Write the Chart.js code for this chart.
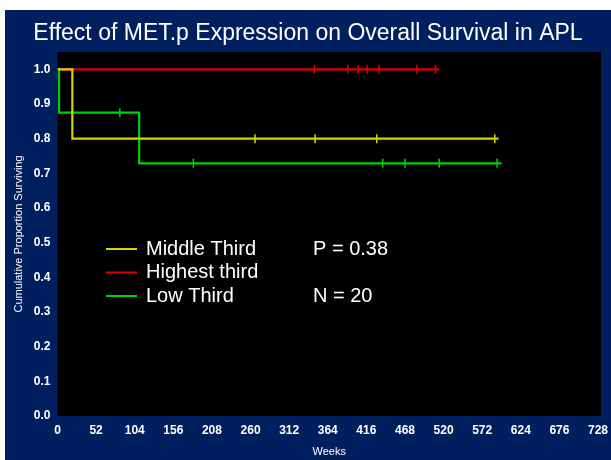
<!DOCTYPE html>
<html>
<head>
<meta charset="utf-8">
<script src="https://cdn.jsdelivr.net/npm/chart.js@4/dist/chart.umd.min.js"></script>
<style>
  html, body { margin: 0; padding: 0; background: #ffffff; }
  #wrap { width: 611px; height: 460px; position: relative; }
</style>
</head>
<body>
<div id="wrap"><canvas id="km" width="611" height="460"></canvas></div>
<script>
// Kaplan-Meier steps: event times (weeks) and survival after each step
const middleTimes = [0, 20, 594];
const middleSurv  = [1.0, 0.8, 0.8];
const middleCensor = [266, 347, 430, 589];

const highTimes = [0, 514];
const highSurv  = [1.0, 1.0];
const highCensor = [346, 391, 405, 417, 433, 484, 509];

const lowTimes = [0, 2, 110, 598];
const lowSurv  = [1.0, 0.875, 0.729, 0.729];
const lowCensor = [84, 183, 438, 468, 514, 592];

const seriesNames = ['Middle Third', 'Highest third', 'Low Third'];
const seriesColors = ['#d8d400', '#e00000', '#00d400'];
const statLabels = ['P = 0.38', '', 'N = 20'];

const weekTicks = [0, 52, 104, 156, 208, 260, 312, 364, 416, 468, 520, 572, 624, 676, 728];
const survTicks = [0.0, 0.1, 0.2, 0.3, 0.4, 0.5, 0.6, 0.7, 0.8, 0.9, 1.0];

const titleText = 'Effect of MET.p Expression on Overall Survival in APL';

function stepPoints(times, surv) {
  return times.map((t, i) => ({ x: t, y: surv[i] }));
}
// survival value of a step curve at time t
function survAt(times, surv, t) {
  let s = surv[0];
  for (let i = 0; i < times.length; i++) if (times[i] <= t) s = surv[i];
  return s;
}
function censorPoints(times, surv, cens) {
  return cens.map(t => ({ x: t, y: survAt(times, surv, t) }));
}

const curves = [
  { times: middleTimes, surv: middleSurv, cens: middleCensor },
  { times: highTimes, surv: highSurv, cens: highCensor },
  { times: lowTimes, surv: lowSurv, cens: lowCensor }
];

const datasets = [];
// censor marks on top
curves.forEach((c, i) => {
  datasets.push({
    type: 'scatter',
    data: censorPoints(c.times, c.surv, c.cens),
    pointStyle: 'line',
    rotation: 90,
    radius: 4.5,
    borderWidth: 1.5,
    borderColor: seriesColors[i],
    backgroundColor: seriesColors[i],
    showLine: false
  });
});
// step lines: yellow drawn above green, green above red
[0, 2, 1].forEach(i => {
  const c = curves[i];
  datasets.push({
    type: 'line',
    data: stepPoints(c.times, c.surv),
    stepped: 'before',
    borderColor: seriesColors[i],
    borderWidth: 2.2,
    pointRadius: 0,
    fill: false
  });
});

const frame = {
  id: 'frame',
  beforeDraw(chart) {
    const { ctx, chartArea: a } = chart;
    ctx.save();
    ctx.fillStyle = '#ffffff';
    ctx.fillRect(0, 0, chart.width, chart.height);
    ctx.fillStyle = '#001f5f';
    ctx.fillRect(5, 10, chart.width - 5, chart.height - 10);
    ctx.fillStyle = '#000000';
    ctx.fillRect(a.left, a.top, a.right - a.left, a.bottom - a.top);
    ctx.fillStyle = '#ffffff';
    ctx.font = '23px "Liberation Sans", Arial, sans-serif';
    ctx.textAlign = 'center';
    ctx.textBaseline = 'middle';
    ctx.fillText(titleText, 308, 34);
    ctx.restore();
  },
  afterDatasetsDraw(chart) {
    const { ctx } = chart;
    ctx.save();
    ctx.font = '20px "Liberation Sans", Arial, sans-serif';
    ctx.textBaseline = 'middle';
    ctx.textAlign = 'left';
    seriesNames.forEach((name, i) => {
      const y = 249 + i * 23.5;
      ctx.strokeStyle = seriesColors[i];
      ctx.lineWidth = 2;
      ctx.beginPath();
      ctx.moveTo(106, y);
      ctx.lineTo(137, y);
      ctx.stroke();
      ctx.fillStyle = '#ffffff';
      ctx.fillText(name, 146, y);
      if (statLabels[i]) ctx.fillText(statLabels[i], 313, y);
    });
    ctx.restore();
  }
};

const tickFont = { family: '"Liberation Sans", Arial, sans-serif', size: 12, weight: 'bold' };
const titleFont = { family: '"Liberation Sans", Arial, sans-serif', size: 11 };

new Chart(document.getElementById('km'), {
  data: { datasets },
  options: {
    responsive: false,
    animation: false,
    events: [],
    layout: { padding: { top: 52, right: 10, left: 0, bottom: 0 } },
    plugins: { legend: { display: false }, tooltip: { enabled: false }, title: { display: false } },
    scales: {
      x: {
        type: 'linear',
        min: 0,
        max: 732,
        afterBuildTicks: s => { s.ticks = weekTicks.map(v => ({ value: v })); },
        afterFit: s => { s.height = 44; s.paddingLeft = 0; s.paddingRight = 0; },
        grid: { display: false, drawTicks: false },
        border: { display: false },
        ticks: { color: '#ffffff', font: tickFont, padding: 7, maxRotation: 0, autoSkip: false },
        title: { display: true, text: 'Weeks', color: '#ffffff', font: titleFont, padding: { top: 0, bottom: 1 } }
      },
      y: {
        type: 'linear',
        min: 0,
        max: 1.05,
        afterBuildTicks: s => { s.ticks = survTicks.map(v => ({ value: v })); },
        afterFit: s => { s.width = 57.5; s.paddingTop = 0; s.paddingBottom = 0; },
        grid: { display: false, drawTicks: false },
        border: { display: false },
        ticks: { color: '#ffffff', font: tickFont, padding: 7, autoSkip: false, callback: v => Number(v).toFixed(1) },
        title: { display: true, text: 'Cumulative Proportion Surviving', color: '#ffffff', font: titleFont, padding: { top: 12, bottom: 0 } }
      }
    }
  },
  plugins: [frame]
});
</script>
</body>
</html>
